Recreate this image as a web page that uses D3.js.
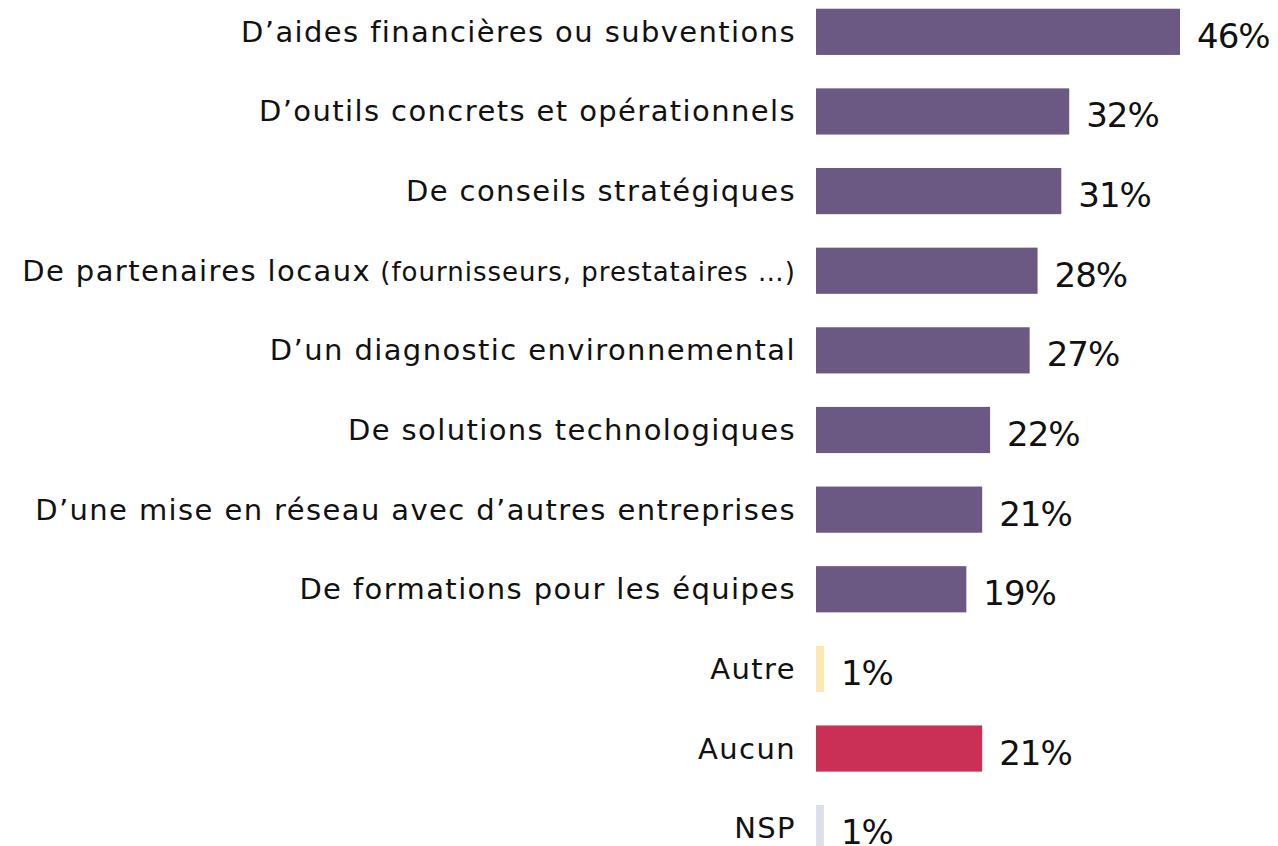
<!DOCTYPE html>
<html>
<head>
<meta charset="utf-8">
<script src="https://cdn.jsdelivr.net/npm/d3@7"></script>
<style>
  body { margin: 0; background: #fff; }
  svg { display: block; }
  text { font-family: "DejaVu Sans", "Noto Sans", sans-serif; fill: #111; }
</style>
</head>
<body>
<div id="chart"></div>
<script>
// Catégories (dans l'ordre d'affichage)
const categories = [
  "D’aides financières ou subventions",
  "D’outils concrets et opérationnels",
  "De conseils stratégiques",
  "De partenaires locaux",
  "D’un diagnostic environnemental",
  "De solutions technologiques",
  "D’une mise en réseau avec d’autres entreprises",
  "De formations pour les équipes",
  "Autre",
  "Aucun",
  "NSP"
];
// texte plus petit ajouté à certains libellés
const subLabels = ["", "", "", " (fournisseurs, prestataires …)", "", "", "", "", "", "", ""];
const values = [46, 32, 31, 28, 27, 22, 21, 19, 1, 21, 1];
const colors = ["#6b5883", "#6b5883", "#6b5883", "#6b5883", "#6b5883", "#6b5883", "#6b5883", "#6b5883", "#fce8b2", "#ca2f55", "#dddfec"];

const width = 1278, height = 846;
const x0 = 816;

const svg = d3.select('#chart')
  .append('svg')
  .attr('width', width)
  .attr('height', height);

const x = d3.scaleLinear().domain([0, 46]).range([0, 364]);
const y = d3.scaleBand()
  .domain(categories)
  .range([-8, 868])
  .paddingInner(0.42)
  .paddingOuter(0.21);

const data = categories.map((c, i) => ({ cat: c, sub: subLabels[i], value: values[i], color: colors[i] }));

// Barres
svg.selectAll('rect')
  .data(data)
  .enter()
  .append('rect')
  .attr('x', x0)
  .attr('y', d => y(d.cat))
  .attr('width', d => x(d.value))
  .attr('height', y.bandwidth())
  .attr('fill', d => d.color);

// Libellés des catégories
const labels = svg.selectAll('text.cat')
  .data(data)
  .enter()
  .append('text')
  .attr('class', 'cat')
  .attr('x', 796)
  .attr('y', d => y(d.cat) + y.bandwidth() / 2 + 10)
  .attr('text-anchor', 'end')
  .attr('font-size', '29px')
  .attr('letter-spacing', '1.4px');

labels.append('tspan').text(d => d.cat);
labels.filter(d => d.sub)
  .append('tspan')
  .attr('font-size', '26px')
  .attr('letter-spacing', '1px')
  .text(d => d.sub);

// Valeurs
svg.selectAll('text.value')
  .data(data)
  .enter()
  .append('text')
  .attr('class', 'value')
  .attr('x', d => x0 + x(d.value) + 17)
  .attr('y', d => y(d.cat) + y.bandwidth() / 2 + 16)
  .attr('font-size', '34px')
  .attr('letter-spacing', '-1px')
  .text(d => d.value + '%');
</script>
</body>
</html>
